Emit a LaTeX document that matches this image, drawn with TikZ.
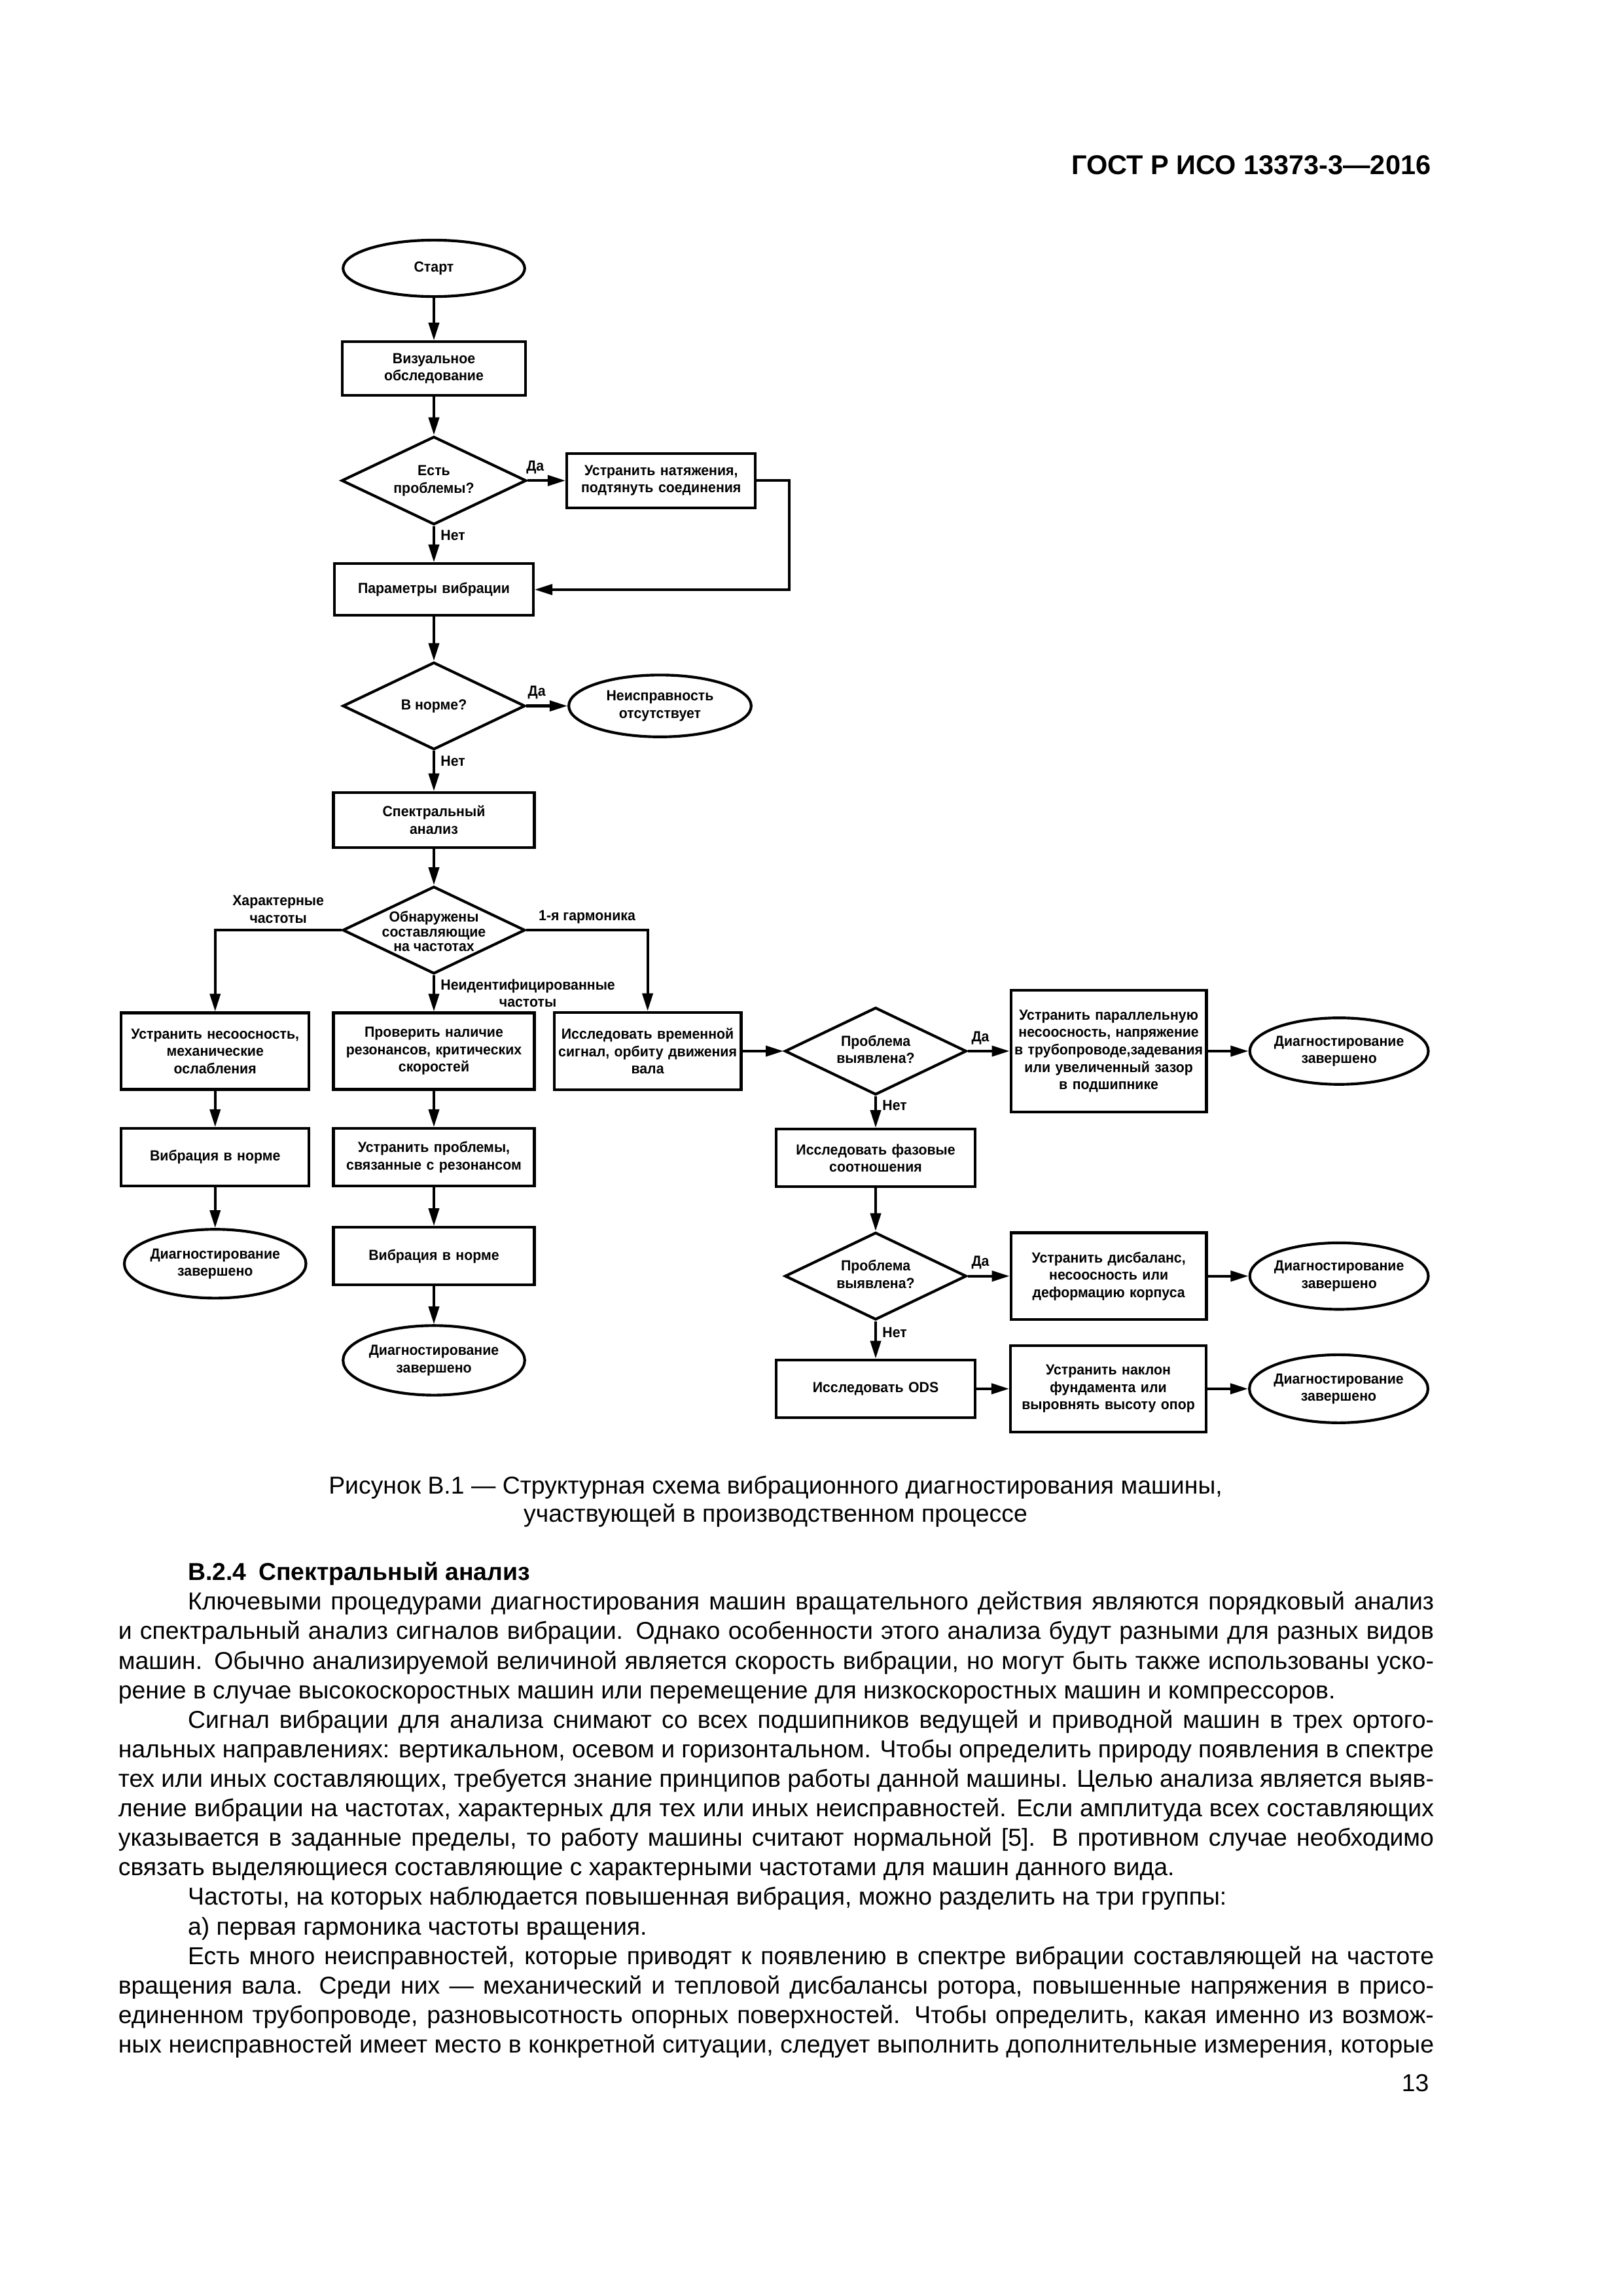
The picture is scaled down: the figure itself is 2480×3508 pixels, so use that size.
\documentclass[tikz,border=0pt]{standalone}
\usepackage{fontspec}
\setmainfont{Liberation Sans}
\newfontfamily\flowfam[FakeStretch=0.95]{Liberation Sans}
\usepackage{tikz}
\usetikzlibrary{positioning,arrows.meta,shapes.geometric,chains,scopes}
\newcommand{\flowfont}{\flowfam\bfseries\fontsize{5.4pt}{6.4pt}\selectfont}
\newcommand{\bodyfont}{\fontsize{9pt}{10.87pt}\selectfont}
% text that leaves the size of an ellipse or diamond alone
\newcommand{\inshape}[2][-1.3pt]{\makebox[0pt]{\smash{\raisebox{#1}{\begin{tabular}[c]{@{}c@{}}#2\end{tabular}}}}}

\begin{document}
\begin{tikzpicture}[x=0.084667mm, y=-0.084667mm, >={Triangle[length=2.3mm,width=1.35mm]},
every join/.style={->, line width=1pt},
box/.style={draw, line width=1pt, align=center, inner sep=0pt, font=\flowfont},
term/.style={ellipse, draw, line width=1pt, inner sep=0pt, font=\flowfont},
decision/.style={diamond, draw, line width=1pt, inner sep=0pt, font=\flowfont},
lbl/.style={font=\flowfont, align=center, inner sep=2pt},
arr/.style={->, line width=1pt}
]
\path[use as bounding box, fill=white] (0,0) rectangle (2480,3508);

\node (gost) [anchor=base east, font=\fontsize{10pt}{12pt}\selectfont\bfseries] at (2201,266) {ГОСТ Р ИСО 13373-3—2016};

% main column
\node (start) [term, minimum width=23.5mm, minimum height=7.3mm] at (663,410) {\inshape{Старт}};
\node (visual) [box, text width=23.7mm, minimum height=6.9mm, below=5.5mm of start] {Визуальное\\обследование};
\node (probl) [decision, minimum width=23.9mm, minimum height=11.4mm, below=5mm of visual] {\inshape{Есть\\проблемы?}};
\node (tension) [box, text width=24.4mm, minimum height=7mm, right=4.9mm of probl] {Устранить натяжения,\\подтянуть соединения};
\node (params) [box, text width=25.7mm, minimum height=6.7mm, below=4.7mm of probl] {Параметры вибрации};
\node (norm) [decision, minimum width=23.6mm, minimum height=11.3mm, below=5.7mm of params] {\inshape{В норме?}};
\node (nofault) [term, minimum width=23.6mm, minimum height=8mm, right=5.3mm of norm] {\inshape{Неисправность\\отсутствует}};
\node (spectr) [box, text width=26mm, minimum height=7.1mm, below=5.2mm of norm] {Спектральный\\анализ};
\node (comps) [decision, minimum width=23.6mm, minimum height=11.3mm, below=4.7mm of spectr, font={\flowfont\linespread{0.85}\selectfont}] {\inshape[-2.5pt]{Обнаружены\\составляющие\\на частотах}};

% three branches
\node (reson) [box, text width=26mm, minimum height=9.9mm, below=4.7mm of comps] {Проверить наличие\\резонансов, критических\\скоростей};
\node (misal) [box, text width=24.3mm, minimum height=9.9mm, left=2.8mm of reson] {Устранить несоосность,\\механические\\ослабления};
\node (orbit) [box, text width=24.2mm, minimum height=10mm, right=2.2mm of reson] {Исследовать временной\\сигнал, орбиту движения\\вала};
\node (vibok1) [box, text width=24.3mm, minimum height=7.45mm, below=4.7mm of misal] {Вибрация в норме};
\node (done1) [term, minimum width=23.5mm, minimum height=8.9mm, below=5.25mm of vibok1] {\inshape{Диагностирование\\завершено}};
\node (fixres) [box, text width=26mm, minimum height=7.45mm, below=4.7mm of reson] {Устранить проблемы,\\связанные с резонансом};
\node (vibok2) [box, text width=26mm, minimum height=7.45mm, below=5mm of fixres] {Вибрация в норме};
\node (done2) [term, minimum width=23.5mm, minimum height=9mm, below=4.9mm of vibok2] {\inshape{Диагностирование\\завершено}};

% right part
\node (found1) [decision, minimum width=23.5mm, minimum height=11.3mm, right=5.3mm of orbit] {\inshape{Проблема\\выявлена?}};
\node (parallel) [box, text width=25.3mm, minimum height=15.8mm, right=5.4mm of found1] {Устранить параллельную\\несоосность, напряжение\\в трубопроводе,задевания\\или увеличенный зазор\\в подшипнике};
\node (done3) [term, minimum width=23.1mm, minimum height=8.6mm, right=5.25mm of parallel] {\inshape{Диагностирование\\завершено}};
\node (phase) [box, text width=25.7mm, minimum height=7.45mm, below=4.1mm of found1] {Исследовать фазовые\\соотношения};
\node (found2) [decision, minimum width=23.5mm, minimum height=11.3mm, below=5.55mm of phase] {\inshape{Проблема\\выявлена?}};
\node (disbal) [box, text width=25.3mm, minimum height=11.2mm, right=5.4mm of found2] {Устранить дисбаланс,\\несоосность или\\деформацию корпуса};
\node (done4) [term, minimum width=23.1mm, minimum height=8.6mm, right=5.25mm of disbal] {\inshape{Диагностирование\\завершено}};
\node (ods) [box, text width=25.7mm, minimum height=7.45mm, below=4.85mm of found2] {Исследовать ODS};
\node (tilt) [box, text width=25.3mm, minimum height=11.2mm, right=4.25mm of ods] {Устранить наклон\\фундамента или\\выровнять высоту опор};
\node (done5) [term, minimum width=23.1mm, minimum height=8.8mm, right=5.25mm of tilt] {\inshape{Диагностирование\\завершено}};

% connectors
{[start chain]
\chainin (start);
\chainin (visual) [join];
\chainin (probl) [join];
}
\draw[arr] (probl) -- node[lbl, pos=0.2, above] {Да} (tension);
\draw[arr] (probl) -- node[lbl, pos=0.25, right] {Нет} (params);
\coordinate [right=4.2mm of tension.east] (loop);
\draw[arr] (tension.east) -- (loop) |- (params.east);
{[start chain]
\chainin (params);
\chainin (norm) [join];
}
\draw[arr] (norm) -- node[lbl, pos=0.25, above] {Да} (nofault);
\draw[arr] (norm) -- node[lbl, pos=0.25, right] {Нет} (spectr);
{[start chain]
\chainin (spectr);
\chainin (comps) [join];
}
\draw[arr] (comps.west) -| node[lbl, pos=0.25, above] {Характерные\\частоты} (misal.north);
\draw[arr] (comps.south) -- node[lbl, midway, right] {Неидентифицированные\\частоты} (reson.north);
\draw[arr] (comps.east) -| node[lbl, pos=0.25, above] {1-я гармоника} (orbit.north);
{[start chain]
\chainin (misal);
\chainin (vibok1) [join];
\chainin (done1) [join];
}
{[start chain]
\chainin (reson);
\chainin (fixres) [join];
\chainin (vibok2) [join];
\chainin (done2) [join];
}
{[start chain]
\chainin (orbit);
\chainin (found1) [join];
}
\draw[arr] (found1) -- node[lbl, pos=0.3, above] {Да} (parallel);
\draw[arr] (found1) -- node[lbl, pos=0.3, right] {Нет} (phase);
\draw[arr] (parallel) -- (done3);
\draw[arr] (phase) -- (found2);
\draw[arr] (found2) -- node[lbl, pos=0.3, above] {Да} (disbal);
\draw[arr] (found2) -- node[lbl, pos=0.3, right] {Нет} (ods);
\draw[arr] (disbal) -- (done4);
{[start chain]
\chainin (ods);
\chainin (tilt) [join];
\chainin (done5) [join];
}

% caption and text of the page
\node (cap1) [anchor=base, font=\bodyfont] at (1185,2282) {Рисунок В.1 — Структурная схема вибрационного диагностирования машины,};
\node (cap2) [anchor=base, font=\bodyfont] at (1185,2325) {участвующей в производственном процессе};

\node (body) [anchor=north west, text width=170.2mm, align=justify, inner sep=0pt, font=\bodyfont] at (180,2386) {%
\setlength{\parindent}{9mm}\hyphenpenalty=10000 \exhyphenpenalty=10000 \tolerance=10000
\hspace*{9mm}\textbf{В.2.4\enspace Спектральный анализ}\par
Ключевыми процедурами диагностирования машин вращательного действия являются порядковый анализ\linebreak
и спектральный анализ сигналов вибрации. Однако особенности этого анализа будут разными для разных видов\linebreak
машин. Обычно анализируемой величиной является скорость вибрации, но могут быть также использованы уско-\linebreak
рение в случае высокоскоростных машин или перемещение для низкоскоростных машин и компрессоров.\par
Сигнал вибрации для анализа снимают со всех подшипников ведущей и приводной машин в трех ортого-\linebreak
нальных направлениях: вертикальном, осевом и горизонтальном. Чтобы определить природу появления в спектре\linebreak
тех или иных составляющих, требуется знание принципов работы данной машины. Целью анализа является выяв-\linebreak
ление вибрации на частотах, характерных для тех или иных неисправностей. Если амплитуда всех составляющих\linebreak
указывается в заданные пределы, то работу машины считают нормальной [5]. В противном случае необходимо\linebreak
связать выделяющиеся составляющие с характерными частотами для машин данного вида.\par
Частоты, на которых наблюдается повышенная вибрация, можно разделить на три группы:\par
а)~первая гармоника частоты вращения.\par
{\parfillskip=0pt
Есть много неисправностей, которые приводят к появлению в спектре вибрации составляющей на частоте\linebreak
вращения вала. Среди них — механический и тепловой дисбалансы ротора, повышенные напряжения в присо-\linebreak
единенном трубопроводе, разновысотность опорных поверхностей. Чтобы определить, какая именно из возмож-\linebreak
ных неисправностей имеет место в конкретной ситуации, следует выполнить дополнительные измерения, которые\par}
};

\node (pnum) [anchor=base east, font=\bodyfont] at (2198,3195) {13};
\end{tikzpicture}
\end{document}
